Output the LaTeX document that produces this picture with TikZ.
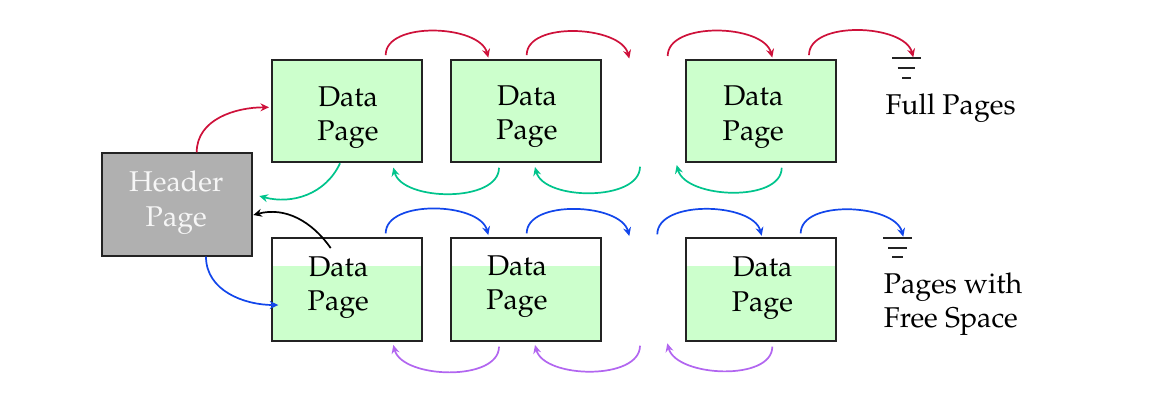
\documentclass[tikz,border=0pt]{standalone}
\usepackage[T1]{fontenc}
\usepackage{mathpazo}
\usetikzlibrary{arrows.meta}
\definecolor{pagegreen}{RGB}{204,255,204}
\definecolor{cred}{RGB}{206,17,58}
\definecolor{cteal}{RGB}{0,196,140}
\definecolor{cblue}{RGB}{18,70,235}
\definecolor{cpurple}{RGB}{178,102,240}
\definecolor{hdrgray}{RGB}{176,176,176}
\definecolor{hdrtext}{RGB}{246,246,246}
\definecolor{edgecol}{RGB}{35,35,35}
\begin{document}
\begin{tikzpicture}[x=0.35pt,y=0.35pt,
  box/.style={draw=edgecol,line width=0.7pt,minimum width=52.5pt,minimum height=35.8pt,inner sep=0pt},
  fullpage/.style={box,fill=pagegreen},
  freepage/.style={box,fill=white,path picture={\fill[pagegreen] (path picture bounding box.south west) rectangle ([yshift=-9.6pt]path picture bounding box.north east);}},
  hdrbox/.style={box,fill=hdrgray},
  lbl/.style={anchor=north,inner sep=0pt,align=center},
  link/.style={line width=0.6pt,-{Stealth[length=3pt,width=2.8pt,inset=1pt]}},
  hop/.style={out=90,in=105,looseness=0.85},
  dip/.style={out=-90,in=-75,looseness=0.85},
  gnd/.style={line width=0.6pt,draw=edgecol},
]
\useasboundingbox (0,0) rectangle (1155,-403);

% boxes
\node[hdrbox] (hdr) at (177.3,-204.5) {};
\node[fullpage] (f1) at (346.7,-111.2) {};
\node[fullpage] (f2) at (525.5,-111.2) {};
\node[fullpage] (f3) at (761,-111.2) {};
\node[freepage] (p1) at (346.7,-289.5) {};
\node[freepage] (p2) at (525.5,-289.5) {};
\node[freepage] (p3) at (761,-289.5) {};

% texts
\node[lbl,text=hdrtext] (th) at (176.3,-170.7) {Header\\Page};
\node[lbl] (tf1) at (348,-85.7) {Data\\Page};
\node[lbl] (tf2) at (527,-85.3) {Data\\Page};
\node[lbl] (tf3) at (753.3,-85.5) {Data\\Page};
\node[lbl] (tp1) at (338.3,-255.7) {Data\\Page};
\node[lbl] (tp2) at (517,-255.3) {Data\\Page};
\node[lbl] (tp3) at (762.5,-256.5) {Data\\Page};
\node[anchor=base west,inner sep=0pt] (lfull) at (885,-114.5) {Full Pages};
\node[anchor=north west,inner sep=0pt,align=left] (lfree) at (883.3,-271.9) {Pages with\\Free Space};

% free ends and grounds
\coordinate (gr1) at (629.3,-58.5);
\coordinate (gr2) at (667.7,-56);
\coordinate (gt1) at (640,-166.7);
\coordinate (gt2) at (676.7,-165);
\coordinate (gb1) at (629.3,-236);
\coordinate (gb2) at (657.3,-234.3);
\coordinate (gp1) at (640,-345.7);
\coordinate (gp2) at (667.3,-343.3);
\coordinate (g1) at (906.5,-58.3);
\coordinate (g2) at (897.5,-238.3);

\draw[gnd] (g1) +(-14.5,0) -- +(14.5,0) +(-8.9,-10) -- +(8.9,-10) +(-4.5,-19.4) -- +(4.5,-19.4);
\draw[gnd] (g2) +(-14.2,0) -- +(14.2,0) +(-9.2,-9.5) -- +(9.2,-9.5) +(-5.5,-19) -- +(5.5,-19);

% full pages: forward (red)
\draw[link,cred] ([shift={(39,4)}]f1.north) to[hop] ([shift={(-37.2,1.5)}]f2.north);
\draw[link,cred] ([shift={(1.2,4)}]f2.north) to[hop] (gr1);
\draw[link,cred] (gr2) to[hop] ([shift={(11.3,1.5)}]f3.north);
\draw[link,cred] ([shift={(48,4)}]f3.north) to[hop] ([shift={(6.8,1)}]g1);
% full pages: backward (teal)
\draw[link,cteal] ([shift={(-26.5,-4.4)}]f2.south) to[dip] ([shift={(46.6,-4.2)}]f1.south);
\draw[link,cteal] (gt1) to[dip] ([shift={(9.5,-3.7)}]f2.south);
\draw[link,cteal] ([shift={(20.7,-4.4)}]f3.south) to[dip] (gt2);

% free pages: forward (blue)
\draw[link,cblue] ([shift={(39,4)}]p1.north) to[hop] ([shift={(-37.2,2.3)}]p2.north);
\draw[link,cblue] ([shift={(1.2,4)}]p2.north) to[hop] (gb1);
\draw[link,cblue] (gb2) to[hop] ([shift={(0.7,1.6)}]p3.north);
\draw[link,cblue] ([shift={(39.7,4)}]p3.north) to[hop] ([shift={(5.8,1.6)}]g2);
% free pages: backward (purple)
\draw[link,cpurple] ([shift={(-26.5,-5)}]p2.south) to[dip] ([shift={(46.6,-3.3)}]p1.south);
\draw[link,cpurple] (gp1) to[dip] ([shift={(9.5,-3.3)}]p2.south);
\draw[link,cpurple] ([shift={(11.3,-5)}]p3.south) to[dip] (gp2);

% header links
\draw[link,cred] ([shift={(19.4,0)}]hdr.north) to[out=90,in=180] ([shift={(-1.7,3.9)}]f1.west);
\draw[link,cteal] ([shift={(-6.7,0)}]f1.south) to[out=-115,in=-15] ([shift={(6,8.5)}]hdr.east);
\draw[link,black] ([shift={(-16,-10.7)}]p1.north) to[out=125,in=15] ([shift={(0,-10.5)}]hdr.east);
\draw[link,cblue] ([shift={(28.7,0)}]hdr.south) to[out=-90,in=180] ([shift={(7.6,-15.5)}]p1.west);
\end{tikzpicture}
\end{document}
